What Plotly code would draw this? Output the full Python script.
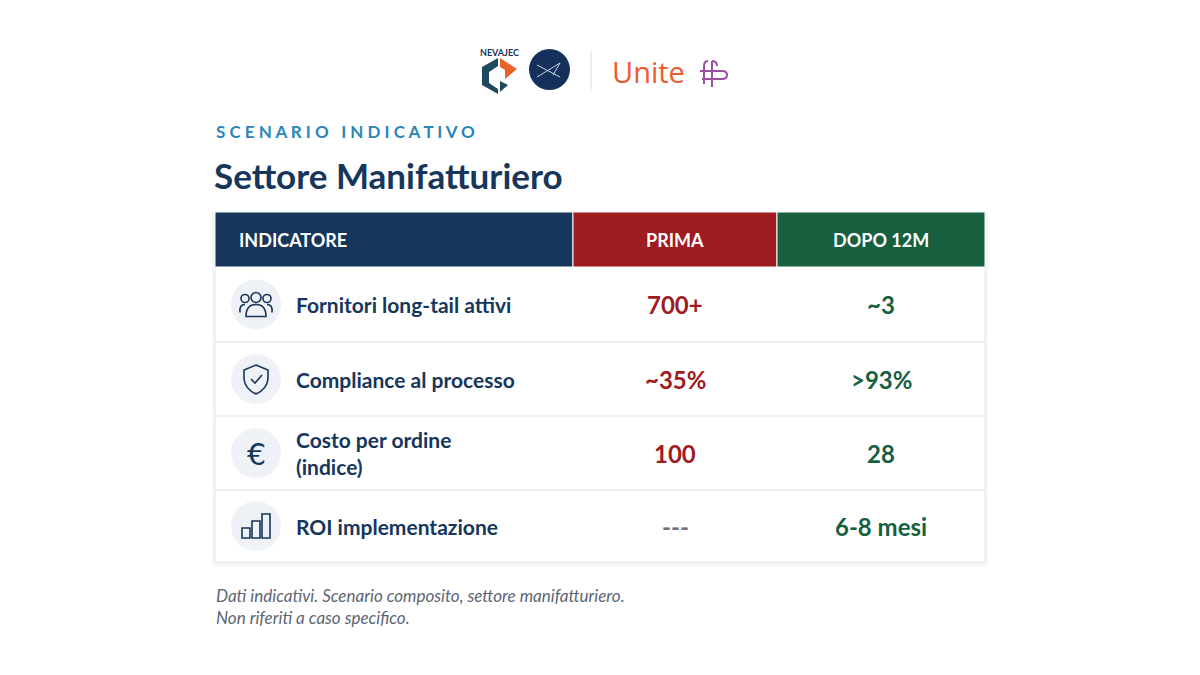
import plotly.graph_objects as go

# dati della tabella
indicatori = ["Fornitori long-tail attivi", "Compliance al processo", "Costo per ordine<br>(indice)", "ROI implementazione"]
prima = ["700+", "~35%", "100", "---"]
dopo = ["~3", ">93%", "28", "6-8 mesi"]
intestazioni = ["INDICATORE", "PRIMA", "DOPO 12M"]
icone = ["people", "shield", "euro", "bars"]

NAVY = "#16365c"
RED = "#9e1b1f"
GREEN = "#17603f"
FONT = "Lato"

col_x = [215, 573, 777, 985]
head_y = (213, 268)
row_y = [268, 343, 417, 491, 563]

fig = go.Figure()
shapes = []
ann = []

# ombra + sfondo tabella
shapes.append(dict(type="rect", x0=212, x1=988, y0=213, y1=568, fillcolor="rgba(0,0,0,0.035)", line_width=0, layer="below"))
shapes.append(dict(type="rect", x0=col_x[0], x1=col_x[3], y0=head_y[0], y1=row_y[-1], fillcolor="white",
                   line=dict(color="#e3e6ea", width=1), layer="below"))
# intestazione
head_colors = [NAVY, RED, GREEN]
for i, h in enumerate(intestazioni):
    shapes.append(dict(type="rect", x0=col_x[i], x1=col_x[i + 1], y0=head_y[0], y1=head_y[1],
                       fillcolor=head_colors[i], line=dict(color="white", width=1)))
    if i == 0:
        ann.append(dict(x=237, y=241, text="<b>" + h + "</b>", xanchor="left", showarrow=False,
                        font=dict(family=FONT, size=18, color="white")))
    else:
        ann.append(dict(x=(col_x[i] + col_x[i + 1]) / 2, y=241, text="<b>" + h + "</b>", showarrow=False,
                        font=dict(family=FONT, size=18, color="white")))

# righe
for r in range(len(indicatori)):
    y0, y1 = row_y[r], row_y[r + 1]
    yc = (y0 + y1) / 2
    if r > 0:
        shapes.append(dict(type="line", x0=col_x[0], x1=col_x[3], y0=y0, y1=y0, line=dict(color="#e6e8eb", width=1.5)))
    ann.append(dict(x=294, y=yc, text="<b>" + indicatori[r] + "</b>", xanchor="left", align="left", showarrow=False,
                    font=dict(family=FONT, size=21, color=NAVY)))
    ann.append(dict(x=675, y=yc, text="<b>" + prima[r] + "</b>", showarrow=False,
                    font=dict(family=FONT, size=24, color="#6b7280" if prima[r] == "---" else RED)))
    ann.append(dict(x=881, y=yc, text="<b>" + dopo[r] + "</b>", showarrow=False,
                    font=dict(family=FONT, size=24, color=GREEN)))
    # icona
    cx = 256
    shapes.append(dict(type="circle", x0=cx - 25, x1=cx + 25, y0=yc - 25, y1=yc + 25, fillcolor="#eef1f5", line_width=0))
    ln = dict(color=NAVY, width=1.6)
    kind = icone[r]
    if kind == "people":
        shapes.append(dict(type="circle", x0=cx - 5, x1=cx + 5, y0=yc - 12, y1=yc - 2, line=ln))
        shapes.append(dict(type="path", path=f"M{cx-10},{yc+12} Q{cx-10},{yc} {cx},{yc} Q{cx+10},{yc} {cx+10},{yc+12} Z", line=ln))
        shapes.append(dict(type="circle", x0=cx - 15, x1=cx - 7, y0=yc - 10, y1=yc - 2, line=ln))
        shapes.append(dict(type="circle", x0=cx + 7, x1=cx + 15, y0=yc - 10, y1=yc - 2, line=ln))
        shapes.append(dict(type="path", path=f"M{cx-16},{yc+8} Q{cx-17},{yc} {cx-11},{yc}", line=ln))
        shapes.append(dict(type="path", path=f"M{cx+16},{yc+8} Q{cx+17},{yc} {cx+11},{yc}", line=ln))
    elif kind == "shield":
        shapes.append(dict(type="path", path=f"M{cx},{yc-14} L{cx+12},{yc-9} L{cx+12},{yc} Q{cx+11},{yc+10} {cx},{yc+15} Q{cx-11},{yc+10} {cx-12},{yc} L{cx-12},{yc-9} Z", line=ln))
        shapes.append(dict(type="path", path=f"M{cx-5},{yc} L{cx-1},{yc+4} L{cx+6},{yc-4}", line=ln))
    elif kind == "euro":
        ann.append(dict(x=cx, y=yc + 1, text="€", showarrow=False, font=dict(family="DejaVu Sans", size=30, color=NAVY)))
    else:
        for bx, bh in [(-14, 10), (-4, 17), (6, 24)]:
            shapes.append(dict(type="rect", x0=cx + bx, x1=cx + bx + 8, y0=yc + 12 - bh, y1=yc + 12, line=ln))

# titoli
ann.append(dict(x=214, y=132, text="<b>S C E N A R I O   I N D I C A T I V O</b>", xanchor="left", showarrow=False,
                font=dict(family=FONT, size=17, color="#2a86b8")))
ann.append(dict(x=212, y=176, text="<b>Settore Manifatturiero</b>", xanchor="left", showarrow=False,
                font=dict(family=FONT, size=35, color=NAVY)))
ann.append(dict(x=214, y=607, text="<i>Dati indicativi. Scenario composito, settore manifatturiero.<br>Non riferiti a caso specifico.</i>",
                xanchor="left", align="left", showarrow=False, font=dict(family=FONT, size=17, color="#5b6573")))

# loghi
ann.append(dict(x=499, y=53, text="<b>NEVAJEC</b>", showarrow=False, font=dict(family=FONT, size=9, color=NAVY)))
shapes.append(dict(type="path", path="M482,68 L498,59 L498,67 L489,73 L489,84 L498,90 L498,95 L482,86 Z", fillcolor="#1f4a5e", line_width=0))
shapes.append(dict(type="path", path="M500,59 L517,70 L505,80 L505,71 L500,68 Z", fillcolor="#e8622b", line_width=0))
shapes.append(dict(type="path", path="M500,82 L508,86 L500,93 Z", fillcolor="#1f4a5e", line_width=0))
shapes.append(dict(type="circle", x0=529, x1=570, y0=50, y1=91, fillcolor="#15305a", line_width=0))
shapes.append(dict(type="path", path="M537,66 L560,78 M537,78 L560,64 L553,76", line=dict(color="#c9d4e4", width=1)))
shapes.append(dict(type="line", x0=591, x1=591, y0=52, y1=92, line=dict(color="#dddddd", width=1)))
ann.append(dict(x=610, y=72, text="Unite", xanchor="left", showarrow=False, font=dict(family="Open Sans", size=29, color="#ee5a2f")))
shapes.append(dict(type="path", path="M708,62 Q704,62 704,67 L704,85 M700,72 L722,72 Q727,72 727,76 Q727,80 722,80 L702,80 M712,62 L712,88 M712,62 Q717,62 717,67",
                   line=dict(color="#9a4fa3", width=2)))

fig.add_trace(go.Scatter(x=[8, 1208], y=[9, 684], mode="markers", marker=dict(opacity=0), hoverinfo="skip", showlegend=False))
# la pagina ha un margine di 8px: sposto gli assi per compensare
fig.update_layout(
    width=1200, height=675, margin=dict(l=0, r=0, t=0, b=0),
    paper_bgcolor="white", plot_bgcolor="white",
    xaxis=dict(range=[8, 1208], visible=False, fixedrange=True),
    yaxis=dict(range=[684, 9], visible=False, fixedrange=True),
    shapes=shapes, annotations=ann,
)
fig.write_html("out.html")
